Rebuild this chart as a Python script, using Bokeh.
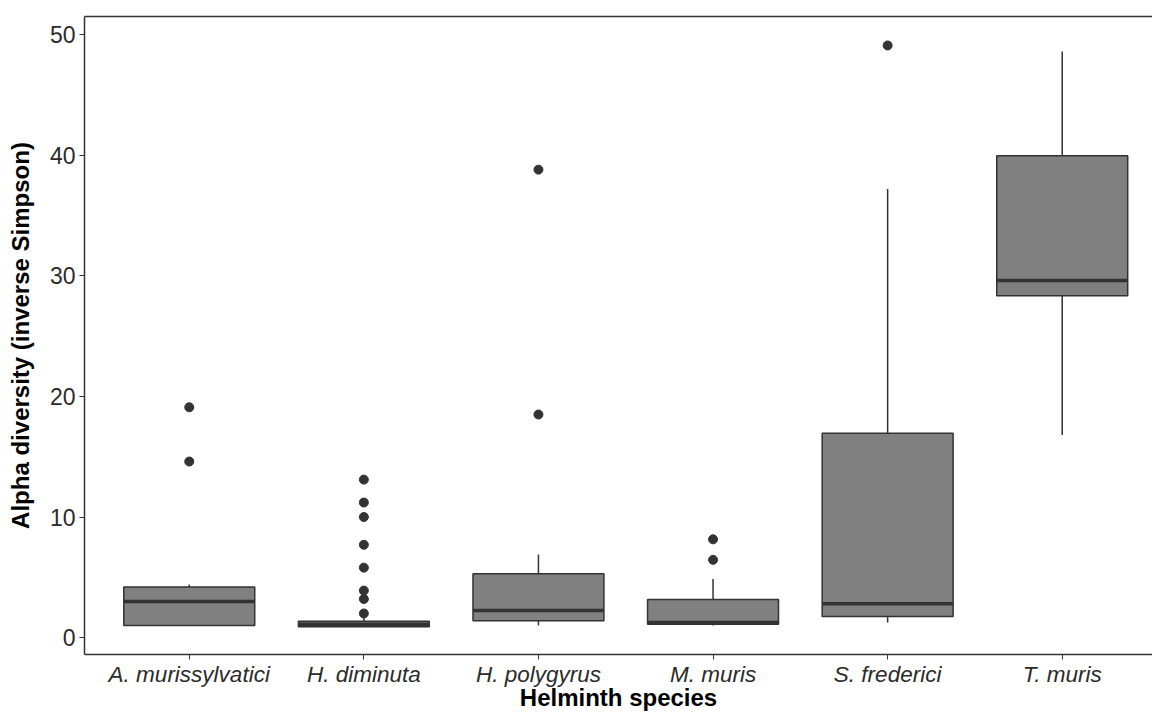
from bokeh.plotting import figure
from bokeh.models import Range1d, LinearAxis, FixedTicker, ColumnDataSource
from bokeh.embed import file_html
from bokeh.resources import INLINE

# Summary statistics per helminth species (inverse Simpson diversity)
species = ["A. murissylvatici", "H. diminuta", "H. polygyrus", "M. muris", "S. frederici", "T. muris"]
q1 = [1.0, 0.9, 1.4, 1.1, 1.75, 28.35]
median = [3.0, 1.1, 2.25, 1.25, 2.8, 29.6]
q3 = [4.2, 1.35, 5.3, 3.15, 16.95, 39.95]
whisker_low = [1.0, 0.9, 1.0, 1.0, 1.25, 16.8]
whisker_high = [4.4, 1.7, 6.9, 4.85, 37.2, 48.6]
outliers = [
    [19.1, 14.6],
    [13.1, 11.2, 10.0, 7.7, 5.8, 3.9, 3.2, 2.0],
    [38.8, 18.5],
    [8.15, 6.45],
    [49.1],
    [],
]

y_ticks = [0, 10, 20, 30, 40, 50]

pos = list(range(1, len(species) + 1))
box_width = 0.75

boxes = ColumnDataSource(dict(x=pos, q1=q1, q3=q3, med=median,
                              lo=whisker_low, hi=whisker_high))
out_x = [p_ for p_, vals in zip(pos, outliers) for _ in vals]
out_y = [v for vals in outliers for v in vals]

p = figure(width=1152, height=713, output_backend="svg", toolbar_location=None,
           x_range=Range1d(0.4, 6.517), y_range=Range1d(-1.4, 51.5),
           x_axis_type=None, y_axis_type=None,
           min_border_left=84, min_border_right=0, min_border_top=16, min_border_bottom=59)
p.outline_line_color = None
p.background_fill_color = "white"
p.border_fill_color = "white"

AXIS_COL = "#333333"
TICK_LABEL_COL = "#2b2b2b"

# x axis with species names
xaxis = LinearAxis(ticker=FixedTicker(ticks=pos),
                   major_label_overrides={i: s for i, s in zip(pos, species)})
xaxis.axis_label = "Helminth species"
xaxis.major_label_text_font = "Liberation Sans"
xaxis.major_label_text_font_style = "italic"
xaxis.major_label_text_font_size = "22.5px"
xaxis.major_label_text_color = TICK_LABEL_COL
xaxis.major_label_standoff = 2
xaxis.axis_label_text_font = "Liberation Sans"
xaxis.axis_label_text_font_style = "bold"
xaxis.axis_label_text_font_size = "24px"
xaxis.axis_label_text_color = "black"
xaxis.axis_label_standoff = -6
xaxis.axis_line_color = AXIS_COL
xaxis.axis_line_width = 1.5
xaxis.major_tick_line_color = AXIS_COL
xaxis.major_tick_out = 5
xaxis.major_tick_in = 0
xaxis.minor_tick_line_color = None
p.add_layout(xaxis, "below")

# y axis
yaxis = LinearAxis(ticker=FixedTicker(ticks=y_ticks))
yaxis.axis_label = "Alpha diversity (inverse Simpson)"
yaxis.major_label_text_font = "Liberation Sans"
yaxis.major_label_text_font_size = "23px"
yaxis.major_label_text_color = TICK_LABEL_COL
yaxis.major_label_standoff = 4
yaxis.axis_label_text_font = "Liberation Sans"
yaxis.axis_label_text_font_style = "bold"
yaxis.axis_label_text_font_size = "24px"
yaxis.axis_label_text_color = "black"
yaxis.axis_label_standoff = 13
yaxis.axis_line_color = AXIS_COL
yaxis.axis_line_width = 1.5
yaxis.major_tick_line_color = AXIS_COL
yaxis.major_tick_out = 5
yaxis.major_tick_in = 0
yaxis.minor_tick_line_color = None
p.add_layout(yaxis, "left")

# top border line of the panel
top = LinearAxis(ticker=FixedTicker(ticks=[]))
top.axis_line_color = AXIS_COL
top.axis_line_width = 1.5
top.major_tick_line_color = None
top.minor_tick_line_color = None
top.major_label_text_font_size = "0px"
p.add_layout(top, "above")

# grid lines
for grid in p.xgrid + p.ygrid:
    grid.grid_line_color = "#e8e8e8"
    grid.grid_line_width = 1.2

# whiskers
p.segment(x0="x", y0="q3", x1="x", y1="hi", source=boxes, line_color=AXIS_COL, line_width=1.5)
p.segment(x0="x", y0="lo", x1="x", y1="q1", source=boxes, line_color=AXIS_COL, line_width=1.5)

# boxes
p.vbar(x="x", width=box_width, bottom="q1", top="q3", source=boxes,
       fill_color="#808080", line_color=AXIS_COL, line_width=1.5)

# medians
med_src = ColumnDataSource(dict(x0=[x - box_width / 2 for x in pos],
                                x1=[x + box_width / 2 for x in pos], y=median))
p.segment(x0="x0", y0="y", x1="x1", y1="y", source=med_src, line_color=AXIS_COL, line_width=3.5)

# outliers
p.scatter(out_x, out_y, size=9, fill_color=AXIS_COL, line_color=AXIS_COL)

open("out.html", "w").write(file_html(p, INLINE))
